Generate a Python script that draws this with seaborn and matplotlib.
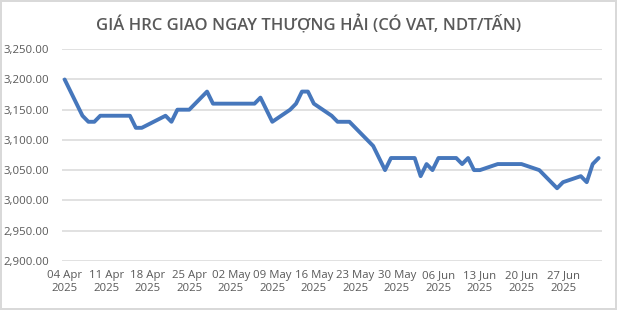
import matplotlib
matplotlib.use("Agg")
import matplotlib.pyplot as plt
import matplotlib.dates as mdates
from matplotlib.ticker import FuncFormatter
import seaborn as sns
import pandas as pd

dates = [
    "2025-04-04", "2025-04-07", "2025-04-08", "2025-04-09", "2025-04-10", "2025-04-11",
    "2025-04-14", "2025-04-15", "2025-04-16", "2025-04-17", "2025-04-18",
    "2025-04-21", "2025-04-22", "2025-04-23", "2025-04-24", "2025-04-25",
    "2025-04-28", "2025-04-29", "2025-04-30",
    "2025-05-06", "2025-05-07", "2025-05-08", "2025-05-09",
    "2025-05-12", "2025-05-13", "2025-05-14", "2025-05-15", "2025-05-16",
    "2025-05-19", "2025-05-20", "2025-05-21", "2025-05-22", "2025-05-23",
    "2025-05-26", "2025-05-27", "2025-05-28", "2025-05-29", "2025-05-30",
    "2025-06-02", "2025-06-03", "2025-06-04", "2025-06-05", "2025-06-06",
    "2025-06-09", "2025-06-10", "2025-06-11", "2025-06-12", "2025-06-13",
    "2025-06-16", "2025-06-17", "2025-06-18", "2025-06-19", "2025-06-20",
    "2025-06-23", "2025-06-24", "2025-06-25", "2025-06-26", "2025-06-27",
    "2025-06-30", "2025-07-01", "2025-07-02", "2025-07-03",
]
prices = [
    3200, 3140, 3130, 3130, 3140, 3140,
    3140, 3140, 3120, 3120, 3125,
    3140, 3130, 3150, 3150, 3150,
    3180, 3160, 3160,
    3160, 3170, 3150, 3130,
    3150, 3160, 3180, 3180, 3160,
    3140, 3130, 3130, 3130, 3120,
    3090, 3070, 3050, 3070, 3070,
    3070, 3040, 3060, 3050, 3070,
    3070, 3060, 3070, 3050, 3050,
    3060, 3060, 3060, 3060, 3060,
    3050, 3040, 3030, 3020, 3030,
    3040, 3030, 3060, 3070,
]
tick_dates = ["2025-04-04", "2025-04-11", "2025-04-18", "2025-04-25", "2025-05-02",
              "2025-05-09", "2025-05-16", "2025-05-23", "2025-05-30", "2025-06-06",
              "2025-06-13", "2025-06-20", "2025-06-27"]
y_ticks = [2900, 2950, 3000, 3050, 3100, 3150, 3200, 3250]
title = "GIÁ HRC GIAO NGAY THƯỢNG HẢI (CÓ VAT, NDT/TẤN)"

df = pd.DataFrame({"date": pd.to_datetime(dates), "price": prices})

sns.set_theme(style="white")
plt.rcParams["font.family"] = ["Open Sans", "DejaVu Sans"]

fig = plt.figure(figsize=(6.17, 3.10), dpi=100)
fig.patch.set_facecolor("white")
fig.patch.set_edgecolor("#D9D9D9")
fig.patch.set_linewidth(1.5)
ax = fig.add_axes([0.100, 0.159, 0.875, 0.682])

sns.lineplot(data=df, x="date", y="price", ax=ax, color="#4677BC", linewidth=2.8)

ax.set_ylim(2900, 3250)
ax.set_yticks(y_ticks)
ax.yaxis.set_major_formatter(FuncFormatter(lambda v, p: f"{v:,.2f}"))
x0 = pd.Timestamp("2025-04-03 12:00")
x1 = pd.Timestamp("2025-07-03 12:00")
ax.set_xlim(x0, x1)
ax.set_xticks(pd.to_datetime(tick_dates))
ax.xaxis.set_major_formatter(mdates.DateFormatter("%d %b\n%Y"))

ax.grid(axis="y", color="#D9D9D9", linewidth=1.1)
ax.grid(axis="x", visible=False)
for s in ax.spines.values():
    s.set_visible(False)
ax.tick_params(axis="both", length=0, colors="#595959", labelsize=8.2)
ax.tick_params(axis="y", pad=9)
ax.tick_params(axis="x", pad=7)
for lbl in ax.get_xticklabels():
    lbl.set_linespacing(1.25)
ax.set_xlabel("")
ax.set_ylabel("")

fig.text(0.50, 0.918, title, ha="center", va="center", fontsize=12,
         fontweight="semibold", color="#595959")

fig.savefig("out.png", dpi=100, facecolor=fig.get_facecolor(), edgecolor=fig.get_edgecolor())
